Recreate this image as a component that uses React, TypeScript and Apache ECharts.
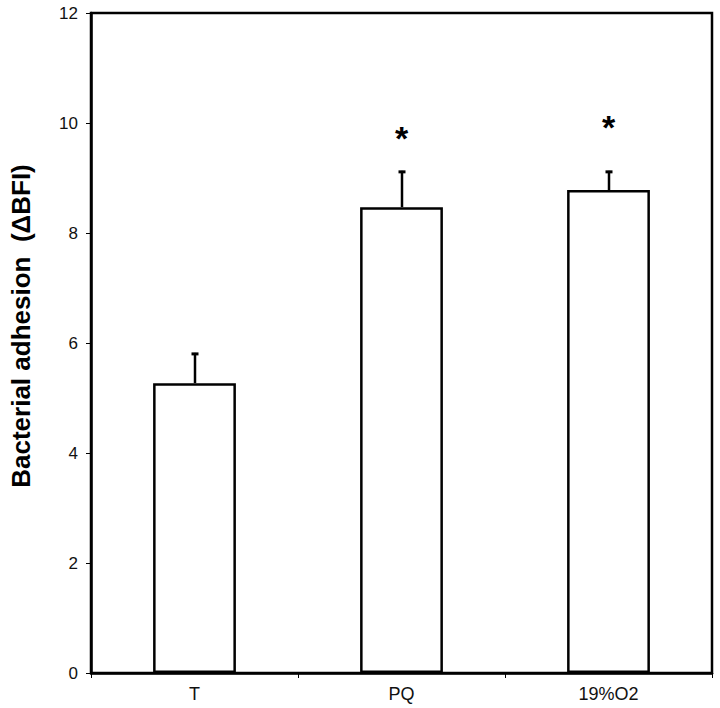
import React, { useEffect, useRef } from "react";
import * as echarts from "echarts";

const categories = ["T", "PQ", "19%O2"];
const means = [5.27, 8.47, 8.78];
const errUpper = [5.82, 9.13, 9.13];
const starValues = [null, 9.72, 9.93];
const starText = ["", "*", "*"];
const yTicks = [0, 2, 4, 6, 8, 10, 12];
const yTitle = "Bacterial adhesion  (\u0394BFI)";

export default function App() {
  const ref = useRef<HTMLDivElement>(null);
  useEffect(() => {
    if (!ref.current) return;
    document.body.style.margin = "0";
    document.body.style.overflow = "hidden";
    const chart = echarts.init(ref.current, null, { renderer: "svg" });
    const option: any = {
      animation: false,
      backgroundColor: "#ffffff",
      grid: {
        left: 91,
        top: 13,
        right: 8,
        bottom: 35,
        show: true,
        borderColor: "#000",
        borderWidth: 2.5,
        backgroundColor: "transparent",
      },
      xAxis: {
        type: "category",
        data: categories,
        boundaryGap: true,
        axisLine: { lineStyle: { color: "#000", width: 2.5 } },
        axisTick: { show: true, alignWithLabel: false, length: 5, lineStyle: { color: "#000", width: 1 } },
        axisLabel: { color: "#111", fontSize: 18, fontFamily: "Liberation Sans, Arial, sans-serif", margin: 12 },
      },
      yAxis: {
        type: "value",
        min: yTicks[0],
        max: yTicks[yTicks.length - 1],
        interval: 2,
        axisLine: { show: true, lineStyle: { color: "#000", width: 2.5 } },
        axisTick: { show: true, length: 5, lineStyle: { color: "#000", width: 1 } },
        axisLabel: { color: "#111", fontSize: 17, fontFamily: "Liberation Sans, Arial, sans-serif", margin: 13 },
        splitLine: { show: false },
      },
      graphic: [
        {
          type: "text",
          x: 21,
          y: 326,
          rotation: Math.PI / 2,
          style: {
            text: yTitle,
            fill: "#000",
            font: "bold 26px Liberation Sans, Arial, sans-serif",
            textAlign: "center",
            textVerticalAlign: "middle",
          },
        },
      ],
      series: [
        {
          type: "bar",
          data: means,
          barWidth: "40%",
          itemStyle: { color: "#fff", borderColor: "#000", borderWidth: 2.5 },
          z: 2,
        },
        {
          type: "custom",
          data: means.map((m, i) => [i, m, errUpper[i]]),
          z: 3,
          renderItem: (params: any, api: any) => {
            const i = api.value(0);
            const base = api.coord([i, api.value(1)]);
            const top = api.coord([i, api.value(2)]);
            const x = Math.round(base[0]);
            return {
              type: "group",
              children: [
                {
                  type: "line",
                  shape: { x1: x, y1: base[1], x2: x, y2: top[1] },
                  style: { stroke: "#000", lineWidth: 2.5 },
                },
                {
                  type: "line",
                  shape: { x1: x - 3.5, y1: top[1] + 1, x2: x + 3.5, y2: top[1] + 1 },
                  style: { stroke: "#000", lineWidth: 3 },
                },
              ],
            };
          },
        },
        {
          type: "custom",
          data: starValues.map((v, i) => [i, v == null ? 0 : v, starText[i]]),
          z: 4,
          renderItem: (params: any, api: any) => {
            const i = api.value(0);
            const txt = starText[i];
            if (!txt) return null;
            const p = api.coord([i, starValues[i]]);
            return {
              type: "text",
              x: p[0],
              y: p[1],
              style: {
                text: txt,
                fill: "#000",
                font: "bold 34px Liberation Sans, Arial, sans-serif",
                textAlign: "center",
                textVerticalAlign: "middle",
              },
            };
          },
        },
      ],
    };
    chart.setOption(option);
    return () => chart.dispose();
  }, []);
  return <div ref={ref} style={{ position: "absolute", left: 0, top: 0, width: 720, height: 708 }} />;
}
